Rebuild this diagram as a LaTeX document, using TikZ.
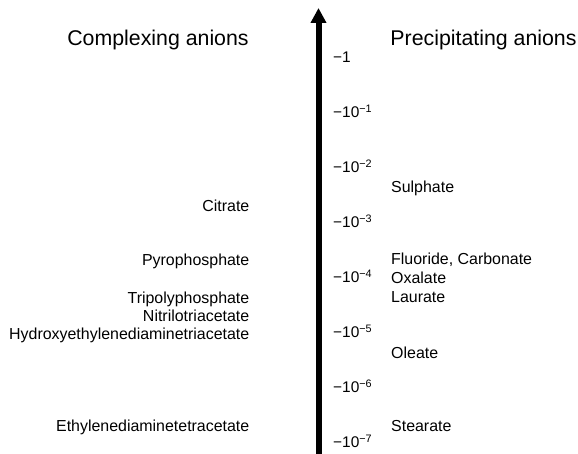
\documentclass[tikz,border=0pt]{standalone}
\usepackage{fontspec}
\setmainfont{Liberation Sans}
\usetikzlibrary{arrows.meta}
\begin{document}
\begin{tikzpicture}[x=1bp,y=-1bp,
  head/.style={font=\fontsize{21.4}{24}\selectfont, inner sep=0pt, anchor=base},
  lab/.style={font=\fontsize{16}{18}\selectfont, inner sep=0pt},
  llab/.style={lab, anchor=base east},
  rlab/.style={lab, anchor=base west},
  tick/.style={font=\fontsize{15.5}{17}\selectfont, inner sep=0pt, anchor=base west}]
\useasboundingbox (0,0) rectangle (578,454);
\coordinate (bot) at (318.5,454);
\coordinate (top) at (318.5,8);
\draw[line width=6bp, -{Triangle[width=15bp,length=15bp]}] (bot) -- (top);

\node[head] (hl) at (158,46) {Complexing anions};
\node[head] (hr) at (483.5,46) {Precipitating anions};

\node[tick] (t0) at (333,63) {−1};
\node[tick] (t1) at (333,117.9) {−10\textsuperscript{−1}};
\node[tick] (t2) at (333,172.8) {−10\textsuperscript{−2}};
\node[tick] (t3) at (333,227.7) {−10\textsuperscript{−3}};
\node[tick] (t4) at (333,282.6) {−10\textsuperscript{−4}};
\node[tick] (t5) at (333,337.5) {−10\textsuperscript{−5}};
\node[tick] (t6) at (333,392.4) {−10\textsuperscript{−6}};
\node[tick] (t7) at (333,447.3) {−10\textsuperscript{−7}};

\node[llab] (c1) at (249.5,211.5) {Citrate};
\node[llab] (c2) at (249.5,266) {Pyrophosphate};
\node[llab] (c3) at (249.5,303) {Tripolyphosphate};
\node[llab] (c4) at (249.5,321) {Nitrilotriacetate};
\node[llab] (c5) at (249.5,339) {Hydroxyethylenediaminetriacetate};
\node[llab] (c6) at (249.5,431) {Ethylenediaminetetracetate};

\node[rlab] (p1) at (391,192.3) {Sulphate};
\node[rlab] (p2) at (391,265) {Fluoride, Carbonate};
\node[rlab] (p3) at (391,283.5) {Oxalate};
\node[rlab] (p4) at (391,302) {Laurate};
\node[rlab] (p5) at (391,358) {Oleate};
\node[rlab] (p6) at (391,431.7) {Stearate};
\end{tikzpicture}
\end{document}
